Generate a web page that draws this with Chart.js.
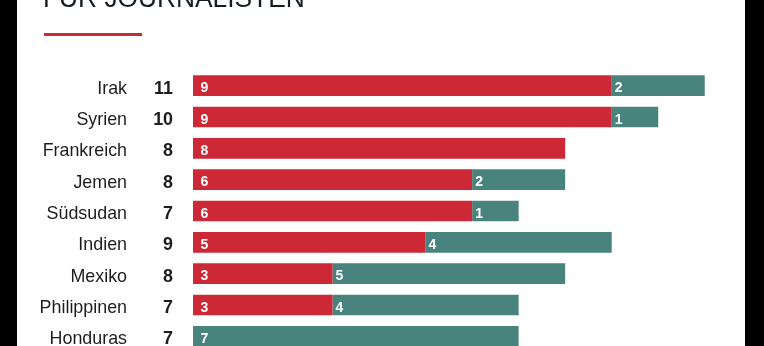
<!DOCTYPE html>
<html>
<head>
<meta charset="utf-8">
<script src="https://cdn.jsdelivr.net/npm/chart.js@4/dist/chart.umd.min.js"></script>
<style>
  html, body { margin: 0; padding: 0; background: #000; overflow: hidden; }
  #wrap { position: absolute; left: 17px; top: 0; width: 728px; height: 346px; background: #fff; overflow: hidden; }
  #myChart { display: block; }
</style>
</head>
<body>
<div id="wrap"><canvas id="myChart" width="728" height="360"></canvas></div>
<script>
/*---- chart data ----*/
var countries = ["Irak", "Syrien", "Frankreich", "Jemen", "Südsudan", "Indien", "Mexiko", "Philippinen", "Honduras"];
var redValues = [9, 9, 8, 6, 6, 5, 3, 3, 0];
var tealValues = [2, 1, 0, 2, 1, 4, 5, 4, 7];
var totals = [11, 10, 8, 8, 7, 9, 8, 7, 7];
var titleText = "FÜR JOURNALISTEN";

var RED = "#cc2836";
var TEAL = "#48837e";
var SQUEEZE = 0.94;

/*---- draws text slightly narrower, like the original typeface ----*/
function drawText(ctx, text, x, y, font, color, align) {
	ctx.save();
	ctx.font = font;
	ctx.fillStyle = color;
	ctx.textAlign = align;
	ctx.textBaseline = "alphabetic";
	ctx.translate(x, y);
	ctx.scale(SQUEEZE, 1);
	ctx.fillText(text, 0, 0);
	ctx.restore();
}

/*---- title, red rule, country names, totals and values inside the bars ----*/
var labelPlugin = {
	id: "labels",
	afterDatasetsDraw: function(chart) {
		var ctx = chart.ctx;
		var yScale = chart.scales.y;
		var xScale = chart.scales.x;

		drawText(ctx, titleText, 26, 7, "28px 'Liberation Sans', Arial, sans-serif", "#161c24", "left");
		ctx.save();
		ctx.fillStyle = RED;
		ctx.fillRect(27, 33, 98, 3);
		ctx.restore();

		for (var i = 0; i < countries.length; i++) {
			var y = yScale.getPixelForValue(i);
			drawText(ctx, countries[i], 110, y + 8, "19px 'Liberation Sans', Arial, sans-serif", "#1d1d1d", "right");
			drawText(ctx, String(totals[i]), 156, y + 8, "bold 19px 'Liberation Sans', Arial, sans-serif", "#1d1d1d", "right");

			var base = 0;
			var series = [redValues, tealValues];
			for (var s = 0; s < series.length; s++) {
				var v = series[s][i];
				if (v > 0) {
					var x = xScale.getPixelForValue(base) + (base === 0 ? 7.5 : 3);
					ctx.save();
					ctx.font = "bold 14px 'Liberation Sans', Arial, sans-serif";
					ctx.fillStyle = "#ffffff";
					ctx.textAlign = "left";
					ctx.textBaseline = "alphabetic";
					ctx.fillText(String(v), x, y + 6.5);
					ctx.restore();
				}
				base += v;
			}
		}
	}
};

/*---- build the chart ----*/
function createbarchart() {
	var ctx = document.getElementById("myChart").getContext("2d");
	new Chart(ctx, {
		type: "bar",
		data: {
			labels: countries,
			datasets: [
				{ data: redValues, backgroundColor: RED, borderWidth: 0 },
				{ data: tealValues, backgroundColor: TEAL, borderWidth: 0 }
			]
		},
		options: {
			indexAxis: "y",
			responsive: false,
			animation: false,
			layout: { padding: { left: 176, right: 17, top: 70, bottom: 8 } },
			datasets: { bar: { categoryPercentage: 1, barPercentage: 0.66 } },
			plugins: { legend: { display: false }, tooltip: { enabled: false }, title: { display: false } },
			scales: {
				x: { stacked: true, display: false, min: 0, max: 11.5 },
				y: { stacked: true, display: false }
			}
		},
		plugins: [labelPlugin]
	});
}

createbarchart();
</script>
</body>
</html>
